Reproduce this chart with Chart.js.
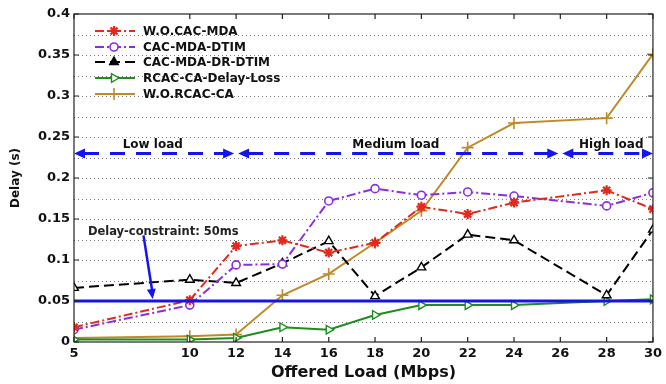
<!DOCTYPE html>
<html>
<head>
<meta charset="utf-8">
<script src="https://cdn.jsdelivr.net/npm/chart.js@4/dist/chart.umd.min.js"></script>
<style>
  html, body { margin: 0; padding: 0; background: #fff; }
  #c { display: block; }
</style>
</head>
<body>
<canvas id="c" width="666" height="384"></canvas>
<script>
// Offered load values (Mbps) at which each scheme was measured
const loads = [5, 10, 12, 14, 16, 18, 20, 22, 24, 28, 30];
// Tick labels shown on the x axis
const xTicks = [5, 10, 12, 14, 16, 18, 20, 22, 24, 26, 28, 30];

// Mean delay (s) per scheme
const woCacMda     = [0.018, 0.051, 0.117, 0.124, 0.109, 0.121, 0.165, 0.156, 0.170, 0.185, 0.162];
const cacMdaDtim   = [0.015, 0.045, 0.094, 0.095, 0.172, 0.187, 0.179, 0.183, 0.178, 0.166, 0.182];
const cacMdaDrDtim = [0.066, 0.076, 0.072, 0.096, 0.123, 0.056, 0.091, 0.131, 0.124, 0.057, 0.137];
const rcacDelayLoss= [0.003, 0.003, 0.005, 0.018, 0.015, 0.033, 0.045, 0.045, 0.045, 0.050, 0.052];
const woRcacCa     = [0.005, 0.007, 0.009, 0.057, 0.083, 0.121, 0.160, 0.237, 0.267, 0.273, 0.351];

const seriesNames = ['W.O.CAC-MDA', 'CAC-MDA-DTIM', 'CAC-MDA-DR-DTIM', 'RCAC-CA-Delay-Loss', 'W.O.RCAC-CA'];

// Delay constraint and load-region markers
const delayConstraint = 0.05;
const regionY = 0.23;
const regionBounds = [5, 12, 26, 30];
const regionNames = ['Low load', 'Medium load', 'High load'];
const regionLabelX = [8.4, 18.9, 28.2];

const BLUE = '#1414f0';
const FONT = '"DejaVu Sans", sans-serif';

const pts = vals => loads.map((x, i) => ({ x, y: vals[i] }));

const datasets = [
  { label: seriesNames[0], data: pts(woCacMda), borderColor: '#e3281c', backgroundColor: '#e3281c',
    borderDash: [9, 3, 2, 3], pointStyle: 'star', pointRadius: 5, pointBorderWidth: 2.2 },
  { label: seriesNames[1], data: pts(cacMdaDtim), borderColor: '#8a2ee6', backgroundColor: '#ffffff',
    borderDash: [9, 3, 2, 3], pointStyle: 'circle', pointRadius: 4, pointBorderWidth: 1.6 },
  { label: seriesNames[2], data: pts(cacMdaDrDtim), borderColor: '#000000', backgroundColor: '#ffffff',
    borderDash: [10, 5], pointStyle: 'triangle', pointRadius: 5, pointBorderWidth: 1.4 },
  { label: seriesNames[3], data: pts(rcacDelayLoss), borderColor: '#1e8c1e', backgroundColor: '#ffffff',
    borderDash: [], pointStyle: 'triangle', pointRotation: 90, pointRadius: 5, pointBorderWidth: 1.4 },
  { label: seriesNames[4], data: pts(woRcacCa), borderColor: '#c08a28', backgroundColor: '#c08a28',
    borderDash: [], pointStyle: 'cross', pointRadius: 6, pointBorderWidth: 1.6 }
].map(d => Object.assign({ borderWidth: 2, fill: false, tension: 0 }, d));

function arrowHead(ctx, x, y, dir, len, half) {
  ctx.beginPath();
  ctx.moveTo(x, y);
  ctx.lineTo(x - dir * len, y - half);
  ctx.lineTo(x - dir * len, y + half);
  ctx.closePath();
  ctx.fill();
}

// Dotted horizontal grid behind the data
const gridPlugin = {
  id: 'dottedGrid',
  beforeDatasetsDraw(chart) {
    const { ctx, chartArea: a, scales: { y } } = chart;
    ctx.save();
    ctx.strokeStyle = '#777';
    ctx.lineWidth = 1;
    ctx.setLineDash([1, 3]);
    y.ticks.forEach(t => {
      if (t.value <= 0 || t.value >= 0.4) return;
      const py = Math.round(y.getPixelForValue(t.value)) + 0.5;
      ctx.beginPath();
      ctx.moveTo(a.left, py);
      ctx.lineTo(a.right, py);
      ctx.stroke();
    });
    ctx.restore();
  }
};

// Frame, inward ticks, annotations and legend
const overlayPlugin = {
  id: 'overlay',
  afterDatasetsDraw(chart) {
    const { ctx, chartArea: a, scales: { x, y } } = chart;
    ctx.save();

    // constraint line
    const cy = y.getPixelForValue(delayConstraint);
    ctx.strokeStyle = BLUE;
    ctx.lineWidth = 3;
    ctx.beginPath();
    ctx.moveTo(x.getPixelForValue(loads[0]), cy);
    ctx.lineTo(x.getPixelForValue(30), cy);
    ctx.stroke();

    // load regions: dashed double arrows
    const ry = y.getPixelForValue(regionY);
    ctx.fillStyle = BLUE;
    for (let i = 0; i < regionBounds.length - 1; i++) {
      const x0 = x.getPixelForValue(regionBounds[i]) + (i === 0 ? 0 : 2);
      const x1 = x.getPixelForValue(regionBounds[i + 1]) - (i === regionBounds.length - 2 ? 0 : 2);
      ctx.setLineDash([15, 11]);
      ctx.lineWidth = 3;
      ctx.beginPath();
      ctx.moveTo(x0 + 10, ry);
      ctx.lineTo(x1 - 10, ry);
      ctx.stroke();
      ctx.setLineDash([]);
      arrowHead(ctx, x0, ry, -1, 11, 5);
      arrowHead(ctx, x1, ry, 1, 11, 5);
    }
    ctx.fillStyle = '#111';
    ctx.font = 'bold 12px ' + FONT;
    ctx.textAlign = 'center';
    ctx.textBaseline = 'alphabetic';
    regionNames.forEach((n, i) => ctx.fillText(n, x.getPixelForValue(regionLabelX[i]), ry - 5));

    // constraint label and pointer
    ctx.textAlign = 'left';
    ctx.textBaseline = 'middle';
    ctx.font = 'bold 11.5px ' + FONT;
    ctx.fillStyle = '#222';
    ctx.fillText('Delay-constraint: 50ms', x.getPixelForValue(5.6), y.getPixelForValue(0.134));
    const ax0 = x.getPixelForValue(8.0), ay0 = y.getPixelForValue(0.13);
    const ax1 = x.getPixelForValue(8.4), ay1 = cy - 2;
    ctx.strokeStyle = BLUE;
    ctx.fillStyle = BLUE;
    ctx.lineWidth = 2.5;
    ctx.beginPath();
    ctx.moveTo(ax0, ay0);
    ctx.lineTo(ax1 - 0.5, ay1 - 8);
    ctx.stroke();
    const ang = Math.atan2(ay1 - ay0, ax1 - ax0);
    ctx.save();
    ctx.translate(ax1, ay1);
    ctx.rotate(ang);
    ctx.beginPath();
    ctx.moveTo(0, 0);
    ctx.lineTo(-10, -4.5);
    ctx.lineTo(-10, 4.5);
    ctx.closePath();
    ctx.fill();
    ctx.restore();

    // frame
    ctx.strokeStyle = '#222';
    ctx.lineWidth = 1.2;
    ctx.strokeRect(a.left, a.top, a.right - a.left, a.bottom - a.top);
    // inward ticks
    ctx.beginPath();
    xTicks.forEach(v => {
      const px = x.getPixelForValue(v);
      ctx.moveTo(px, a.bottom); ctx.lineTo(px, a.bottom - 5);
      ctx.moveTo(px, a.top); ctx.lineTo(px, a.top + 5);
    });
    y.ticks.forEach(t => {
      if (Math.round(t.value * 1000) % 50 !== 0) return;
      const py = y.getPixelForValue(t.value);
      ctx.moveTo(a.left, py); ctx.lineTo(a.left + 5, py);
      ctx.moveTo(a.right, py); ctx.lineTo(a.right - 5, py);
    });
    ctx.stroke();

    // legend
    const lx0 = 95, lx1 = 135, tx = 143;
    const rows = [31, 47, 62, 78, 94];
    ctx.font = 'bold 12px ' + FONT;
    ctx.textBaseline = 'middle';
    ctx.textAlign = 'left';
    chart.data.datasets.forEach((d, i) => {
      const ly = rows[i];
      ctx.strokeStyle = d.borderColor;
      ctx.lineWidth = d.borderWidth;
      ctx.setLineDash(d.borderDash || []);
      ctx.beginPath();
      ctx.moveTo(lx0, ly);
      ctx.lineTo(lx1, ly);
      ctx.stroke();
      ctx.setLineDash([]);
      ctx.strokeStyle = d.borderColor;
      ctx.fillStyle = i === 2 ? d.borderColor : d.backgroundColor;
      ctx.lineWidth = d.pointBorderWidth;
      Chart.helpers.drawPoint(ctx, {
        pointStyle: d.pointStyle,
        rotation: d.pointRotation || 0,
        radius: d.pointRadius,
        borderWidth: d.pointBorderWidth
      }, (lx0 + lx1) / 2 - 1, ly);
      ctx.fillStyle = '#111';
      ctx.fillText(d.label, tx, ly + 1);
    });
    ctx.restore();
  }
};

new Chart(document.getElementById('c'), {
  type: 'line',
  data: { datasets },
  options: {
    responsive: false,
    animation: false,
    devicePixelRatio: 1,
    layout: { padding: { top: 14, right: 11, left: 0, bottom: 0 } },
    plugins: { legend: { display: false }, tooltip: { enabled: false } },
    scales: {
      x: {
        type: 'linear',
        min: 5,
        max: 30,
        afterBuildTicks: s => { s.ticks = xTicks.map(v => ({ value: v })); },
        afterFit: s => { s.height = 42; },
        grid: { display: false, drawTicks: false },
        border: { display: false },
        ticks: {
          color: '#111',
          font: { family: FONT, size: 13, weight: 'bold' },
          padding: 4,
          maxRotation: 0,
          autoSkip: false,
          callback: v => String(v)
        },
        title: {
          display: true,
          text: 'Offered Load (Mbps)',
          color: '#111',
          font: { family: FONT, size: 16, weight: 'bold' },
          padding: { top: 0, bottom: 2 }
        }
      },
      y: {
        min: 0,
        max: 0.4,
        afterFit: s => { s.width = 74; },
        grid: { display: false, drawTicks: false },
        border: { display: false },
        ticks: {
          stepSize: 0.025,
          color: '#111',
          font: { family: FONT, size: 13, weight: 'bold' },
          padding: 4,
          autoSkip: false,
          callback: v => (Math.round(v * 1000) % 50 === 0 ? String(Math.round(v * 1000) / 1000) : '')
        },
        title: {
          display: true,
          text: 'Delay (s)',
          color: '#111',
          font: { family: FONT, size: 12, weight: 'bold' },
          padding: { top: 9, bottom: 0 }
        }
      }
    }
  },
  plugins: [gridPlugin, overlayPlugin]
});
</script>
</body>
</html>
